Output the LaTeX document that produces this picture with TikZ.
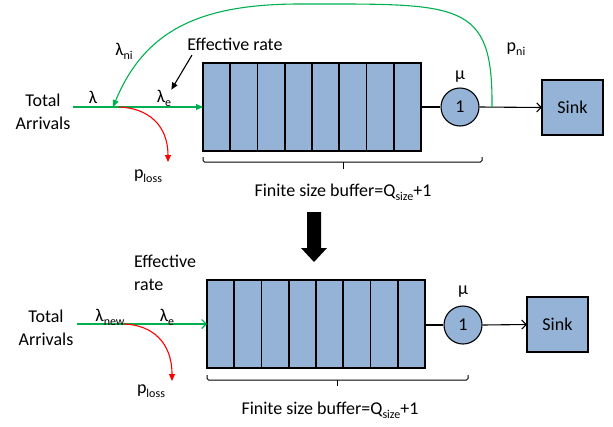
\documentclass[tikz,border=0pt]{standalone}
\usepackage{fontspec}
\setmainfont{Carlito}
\usetikzlibrary{arrows.meta}
\definecolor{qblue}{HTML}{95B3D7}
\definecolor{qgreen}{HTML}{00B050}
\definecolor{qred}{HTML}{FF0000}
\newcommand{\mysub}[1]{\raisebox{-0.45ex}{\fontsize{12}{12}\selectfont #1}}
\begin{document}
\begin{tikzpicture}[x=1pt,y=-1pt,
  font=\fontsize{18}{23}\selectfont,
  lbl/.style={inner sep=0pt, anchor=center},
  bufbox/.style={draw=black, line width=1.7pt, fill=qblue, minimum width=218pt, minimum height=88pt, inner sep=0pt, outer sep=0pt},
  server/.style={circle, draw=black, line width=1.1pt, fill=qblue, minimum size=38pt, inner sep=0pt},
  sinkbox/.style={draw=black, line width=1.6pt, fill=qblue, minimum width=61pt, minimum height=55pt, inner sep=0pt, outer sep=0pt},
  conn/.style={line width=1.1pt},
  fillhead/.style={-{Triangle[length=7pt,width=6pt]}},
  openhead/.style={-{Straight Barb[length=4.5pt,width=9pt]}},
  bracket/.style={line width=1pt, rounded corners=1.5pt},
]
\useasboundingbox (0,0) rectangle (613,426);

% ===== top diagram =====
\node[bufbox] (qa) at (312,107) {};
\foreach \i in {1,...,7}
  \draw[line width=1.7pt] ([xshift=\i*27.25pt]qa.north west) -- ([xshift=\i*27.25pt]qa.south west);
\node[server] (sa) at (460,107) {1};
\node[sinkbox] (ka) at (572.5,107.5) {Sink};
\node[lbl] (mua) at (460,77) {μ};
\draw[conn] (qa.east) -- (sa.west);
\coordinate (fba) at (492,107);
\draw[conn, openhead] (sa.east) -- (ka.west);

\node[lbl, align=center] (tota) at (43,111.5) {Total\\Arrivals};
\coordinate (ina) at (73,107);
\coordinate (mra) at (113,107);
\coordinate (sla) at (119,107);
\draw[conn, qgreen, fillhead] (ina) -- (qa.west);
\draw[conn, qgreen, fillhead] (fba) .. controls (493,0) and (460,4) .. (300,4)
   .. controls (200,4) and (145,30) .. (mra);
\draw[conn, qred, fillhead] (sla) .. controls (148,108) and (168,125) .. (168,162);

\node[lbl] (la) at (93,97) {λ};
\node[lbl] (lnia) at (124,51) {λ\mysub{ni}};
\node[lbl] (lea) at (164,98) {λ\mysub{e}};
\node[lbl] (efa) at (235,44) {Effective rate};
\draw[conn, fillhead] (192,55) -- (lea.north east);
\node[lbl] (ploa) at (148,176) {p\mysub{loss}};
\node[lbl] (pnia) at (516,49) {p\mysub{ni}};

\draw[bracket] (qa.south west |- 0,157) -- (203,162) -- (482,162) -- (482,157);
\draw[line width=1pt] (343,162) -- (343,169);
\node[lbl] (fsa) at (343,192) {Finite size buffer=Q\mysub{size}+1};

% ===== big arrow =====
\fill[black] (307,212) -- (321,212) -- (321,248) -- (327,248) -- (314,262) -- (301,248) -- (307,248) -- cycle;

% ===== bottom diagram =====
\node[bufbox] (qb) at (316,324) {};
\foreach \i in {1,...,7}
  \draw[line width=1.7pt] ([xshift=\i*27.25pt]qb.north west) -- ([xshift=\i*27.25pt]qb.south west);
\node[server] (sb) at (463,325) {1};
\node[sinkbox] (kb) at (557.5,324.5) {Sink};
\node[lbl] (mub) at (463,292) {μ};
\draw[conn] (qb.east |- sb.west) -- (sb.west);
\draw[conn, openhead] (sb.east) -- (kb.west);

\node[lbl, align=center] (totb) at (46,327.5) {Total\\Arrivals};
\coordinate (inb) at (77,324);
\coordinate (slb) at (124,324);
\draw[conn, qgreen, openhead] (inb) -- (qb.west);
\draw[conn, qred, fillhead] (slb) .. controls (153,325) and (172,343) .. (172,381);

\node[lbl] (lnb) at (110,317) {λ\mysub{new}};
\node[lbl] (leb) at (167,317) {λ\mysub{e}};
\node[lbl, align=left, anchor=north west] (efb) at (134,255) {Effective\\rate};
\node[lbl] (plob) at (151,391) {p\mysub{loss}};

\draw[bracket] (207,375) -- (207,380) -- (468,380) -- (468,375);
\draw[line width=1pt] (337,380) -- (337,386);
\node[lbl] (fsb) at (330,410) {Finite size buffer=Q\mysub{size}+1};
\end{tikzpicture}
\end{document}
